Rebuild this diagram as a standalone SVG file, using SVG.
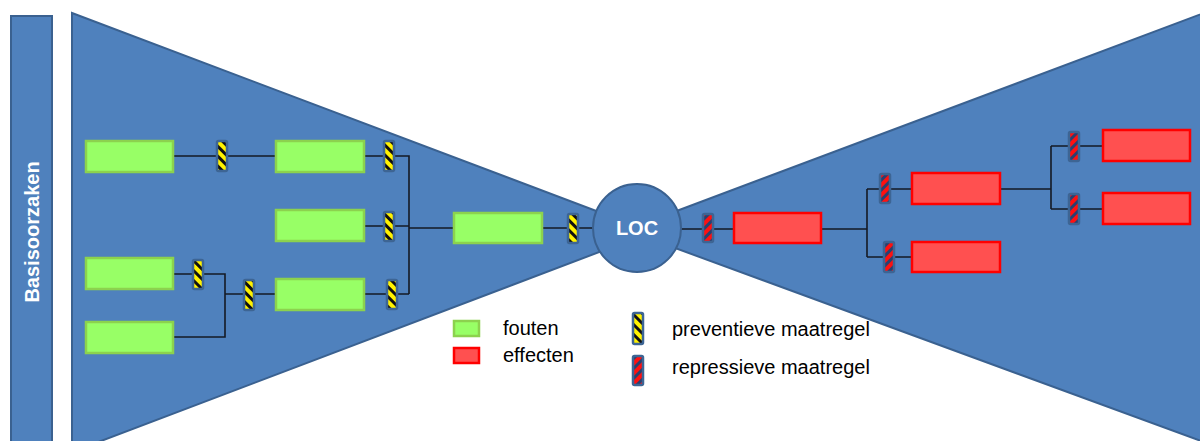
<svg xmlns="http://www.w3.org/2000/svg" width="1200" height="441" viewBox="0 0 1200 441">
  <defs>
    <pattern id="yel" patternUnits="userSpaceOnUse" width="7" height="7" patternTransform="rotate(-45)">
      <rect width="7" height="7" fill="#FFF200"/>
      <rect width="3" height="7" fill="#111"/>
    </pattern>
    <pattern id="red" patternUnits="userSpaceOnUse" width="7" height="7" patternTransform="rotate(45)">
      <rect width="7" height="7" fill="#FF1010"/>
      <rect width="3" height="7" fill="#2B3F6E"/>
    </pattern>
    <style>
      .blue{fill:#4F81BD;stroke:#3A6190;stroke-width:2}
      .g{fill:#98FF66;stroke:#8CD24E;stroke-width:2.5}
      .r{fill:#FF5050;stroke:#FF0000;stroke-width:2.5}
      .by{fill:url(#yel);stroke:#3D6594;stroke-width:2.5}
      .br{fill:url(#red);stroke:#3D6594;stroke-width:2.5}
      .ln{fill:none;stroke:#151a24;stroke-width:1.6}
      .lt{font-family:"Liberation Sans",Arial,sans-serif;font-size:20px;fill:#000}
      .wt{font-family:"Liberation Sans",Arial,sans-serif;font-size:20px;font-weight:bold;fill:#fff}
    </style>
  </defs>
  <rect width="1200" height="441" fill="#fff"/>

  <g id="basisoorzaken">
    <rect class="blue" x="11" y="16" width="41" height="440"/>
    <text class="wt" text-anchor="middle" transform="translate(39,232) rotate(-90)">Basisoorzaken</text>
  </g>

  <g id="left-wedge">
    <polygon class="blue" points="72,13 652,232 72,452"/>
  </g>
  <g id="right-wedge">
    <polygon class="blue" points="626,230 1212,10 1212,445"/>
  </g>

  <g id="connectors">
    <path class="ln" d="M174,156 H216 M228,156 H275"/>
    <path class="ln" d="M365,156 H383 M394,156 H409 V294 M365,226 H383 M394,226 H409 M365,294 H386 M397,294 H409 M409,228 H453"/>
    <path class="ln" d="M543,228 H567 M579,228 H594"/>
    <path class="ln" d="M174,274 H192 M203,274 H225 V337 H174 M225,294 H243 M254,294 H275"/>
    <path class="ln" d="M681,229 H702 M713,229 H733"/>
    <path class="ln" d="M822,229 H867 M867,189 V257 M867,189 H879 M890,189 H911 M867,257 H883 M895,257 H911"/>
    <path class="ln" d="M1001,189 H1051 M1051,146 V209 M1051,146 H1068 M1080,146 H1102 M1051,209 H1068 M1080,209 H1102"/>
  </g>

  <g id="loc">
    <circle class="blue" cx="637" cy="228" r="44"/>
    <text class="wt" x="637" y="235" text-anchor="middle">LOC</text>
  </g>

  <g id="fout-1"><rect class="g" x="86" y="141" width="87" height="31"/></g>
  <g id="fout-2"><rect class="g" x="276" y="141" width="88" height="31"/></g>
  <g id="fout-3"><rect class="g" x="276" y="210" width="88" height="31"/></g>
  <g id="fout-4"><rect class="g" x="276" y="279" width="88" height="31"/></g>
  <g id="fout-5"><rect class="g" x="86" y="258" width="87" height="31"/></g>
  <g id="fout-6"><rect class="g" x="86" y="322" width="87" height="31"/></g>
  <g id="fout-7"><rect class="g" x="454" y="213" width="88" height="30"/></g>

  <g id="effect-1"><rect class="r" x="734" y="213" width="87" height="30"/></g>
  <g id="effect-2"><rect class="r" x="912" y="173" width="88" height="31"/></g>
  <g id="effect-3"><rect class="r" x="912" y="242" width="88" height="30"/></g>
  <g id="effect-4"><rect class="r" x="1103" y="130" width="87" height="31"/></g>
  <g id="effect-5"><rect class="r" x="1103" y="193" width="87" height="31"/></g>

  <g id="prev-1"><rect class="by" x="217" y="141" width="10" height="30" rx="1.5"/></g>
  <g id="prev-2"><rect class="by" x="384" y="141" width="10" height="30" rx="1.5"/></g>
  <g id="prev-3"><rect class="by" x="384" y="212" width="10" height="29" rx="1.5"/></g>
  <g id="prev-4"><rect class="by" x="387" y="280" width="10" height="29" rx="1.5"/></g>
  <g id="prev-5"><rect class="by" x="193" y="260" width="10" height="29" rx="1.5"/></g>
  <g id="prev-6"><rect class="by" x="244" y="280" width="10" height="30" rx="1.5"/></g>
  <g id="prev-7"><rect class="by" x="568" y="214" width="10" height="29" rx="1.5"/></g>

  <g id="rep-1"><rect class="br" x="703" y="214" width="10" height="28" rx="1.5"/></g>
  <g id="rep-2"><rect class="br" x="880" y="174" width="10" height="29" rx="1.5"/></g>
  <g id="rep-3"><rect class="br" x="884" y="242" width="10" height="30" rx="1.5"/></g>
  <g id="rep-4"><rect class="br" x="1069" y="132" width="10" height="29" rx="1.5"/></g>
  <g id="rep-5"><rect class="br" x="1069" y="194" width="10" height="30" rx="1.5"/></g>

  <g id="legend">
    <rect class="g" x="454" y="321" width="25" height="15"/>
    <text class="lt" x="503" y="335">fouten</text>
    <rect class="r" x="454" y="348" width="25" height="15"/>
    <text class="lt" x="503" y="362">effecten</text>
    <rect class="by" x="633" y="313" width="10" height="31" rx="1.5"/>
    <text class="lt" x="672" y="336">preventieve maatregel</text>
    <rect class="br" x="633" y="356" width="10" height="29" rx="1.5"/>
    <text class="lt" x="672" y="374">repressieve maatregel</text>
  </g>
</svg>
